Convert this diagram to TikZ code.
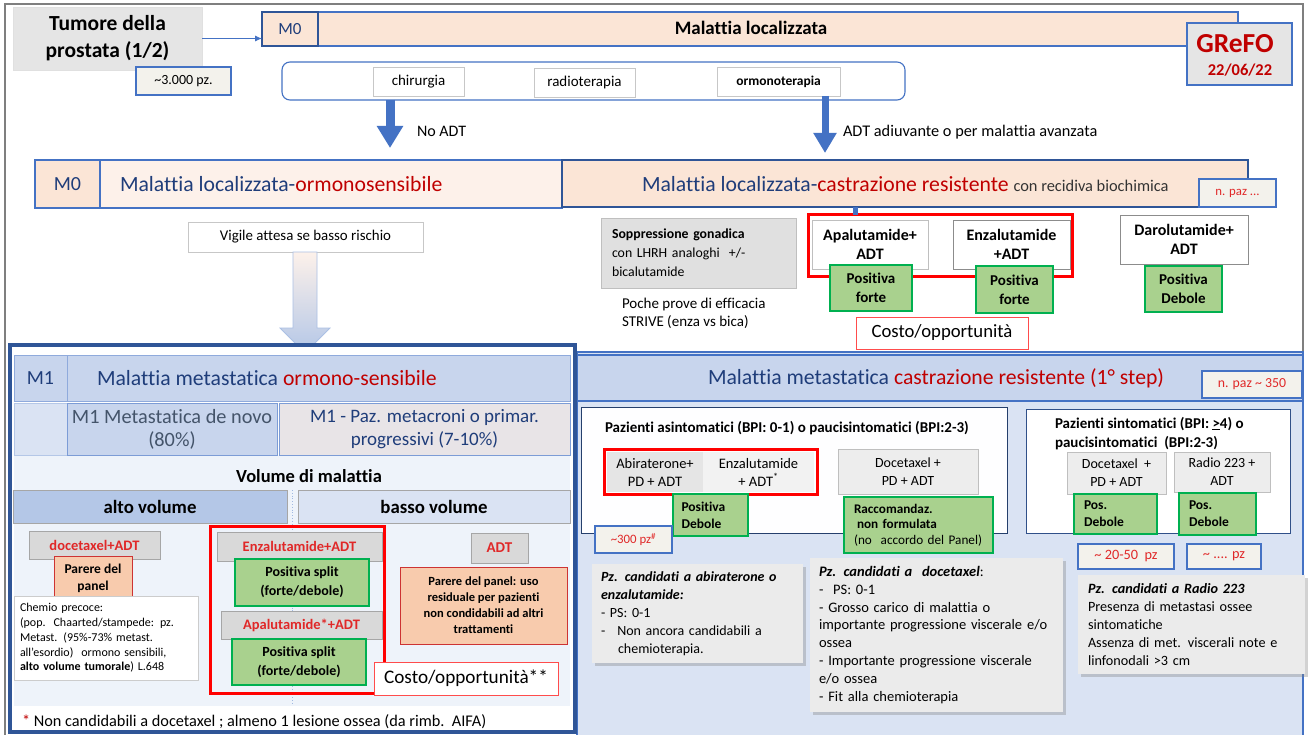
\documentclass[tikz,border=0pt]{standalone}
\usepackage{fontspec}
\setmainfont{Carlito}[Ligatures=NoCommon]
\usetikzlibrary{arrows.meta,shadows}

\definecolor{bordblue}{HTML}{4472C4}
\definecolor{darkblue}{HTML}{2F5597}
\definecolor{txtblue}{HTML}{1F3D7A}
\definecolor{redtxt}{HTML}{C00000}
\definecolor{brred}{HTML}{E02828}
\definecolor{framered}{HTML}{FF0000}
\definecolor{peach}{HTML}{FBE5D6}
\definecolor{peachlt}{HTML}{FDF1EA}
\definecolor{mblue}{HTML}{B4C7E7}
\definecolor{mmid}{HTML}{C8D5ED}
\definecolor{ltblue}{HTML}{DAE3F3}
\definecolor{paleblue}{HTML}{EEF3FA}
\definecolor{grnfill}{HTML}{A9D18E}
\definecolor{grnbord}{HTML}{00B050}
\definecolor{salmon}{HTML}{F8CBAD}
\definecolor{boxgray}{HTML}{D9D9D9}
\definecolor{notegray}{HTML}{EBEBEB}
\definecolor{cream}{HTML}{F3F2EC}
\definecolor{framegray}{HTML}{7F7F7F}
\definecolor{pinkgray}{HTML}{E8E4E7}
\definecolor{graytxt}{HTML}{44546A}

\newcommand\fsz[2]{\fontsize{#1}{#2}\selectfont}
% rectangle node spanning (x1,y1)-(x2,y2), pixel units, y pointing down
\newcommand\pxbox[7]{%
  \node[pxnode,#6,minimum width={(#4)-(#2)},minimum height={(#5)-(#3)}]
    (#1) at ({((#2)+(#4))/2},{((#3)+(#5))/2}) {#7};}

\begin{document}
\begin{tikzpicture}[x=1pt,y=-1pt,
  pxnode/.style={rectangle,inner sep=0pt,outer sep=0pt},
  lightedge/.style={draw=black!22,line width=0.8pt},
  bluedge/.style={draw=bordblue,line width=1.1pt},
  crm/.style={fill=cream,draw=bordblue,line width=1.1pt,text=brred},
  grn/.style={fill=grnfill,draw=grnbord,line width=1.1pt,font=\bfseries\fsz{15}{19},align=center},
  salm/.style={fill=salmon,draw=redtxt!80,line width=1pt,align=center},
  gbox/.style={fill=boxgray,draw=black!35,line width=0.8pt},
  redfr/.style={draw=framered,line width=3pt},
  costo/.style={fill=white,draw=framered!70,line width=1pt,font=\fsz{18.7}{20}},
  note/.style={fill=notegray,drop shadow={shadow xshift=2.5pt,shadow yshift=-3pt,opacity=0.35}},
  lbl/.style={pxnode,anchor=base west},
]
\fill[white] (0,0) rectangle (1313,735);
\useasboundingbox (0,0) rectangle (1313,735);

% outer frame
\draw[framegray,line width=1.5pt] (5,4) rectangle (1303,760);

% ---------------- title ----------------
\pxbox{tum}{13}{7}{202}{70}{fill=black!10,draw=black!12,line width=0.8pt,font=\bfseries\fsz{21.5}{27},align=center}{Tumore della\\prostata (1/2)}
\pxbox{pz}{136}{67}{231}{95}{fill=cream,bluedge,font=\fsz{14}{16}}{\textasciitilde3.000 pz.}

% localized disease bar
\pxbox{locbar}{318}{12}{1238}{46}{fill=peach,bluedge}{}
\pxbox{mza}{262}{12}{318}{46}{fill=peach,draw=darkblue,line width=1.2pt,text=txtblue,font=\fsz{17}{19}}{M0}
\node[pxnode,anchor=base,font=\bfseries\fsz{19}{21}] (loctxt) at (751,35) {Malattia localizzata};
\draw[bordblue,line width=0.8pt,-{Latex[length=7pt,width=6pt]}] (tum.east) -- (tum.east -| mza.west);

% logo
\pxbox{grefo}{1187}{23}{1292}{85}{fill=black!10,bluedge}{}
\node[pxnode,anchor=base,text=redtxt,font=\bfseries\fsz{27.5}{29}] (grefoname) at (1235,53) {GReFO};
\node[pxnode,anchor=base,text=redtxt,font=\bfseries\fsz{16.5}{18}] (grefodate) at (1240,76) {22/06/22};

% treatments
\pxbox{treat}{282}{62}{905}{100}{fill=white,bluedge,rounded corners=8pt}{}
\pxbox{chir}{373}{67}{464}{96}{fill=white,lightedge,font=\fsz{15}{17}}{chirurgia}
\pxbox{radio}{534}{68}{635}{97}{fill=white,lightedge,font=\fsz{15}{17}}{radioterapia}
\pxbox{ormono}{717}{67}{840}{96}{fill=white,lightedge,font=\bfseries\fsz{13.5}{15}}{ormonoterapia}

\coordinate (a1s) at (390,100);
\coordinate (a1e) at (390,148);
\draw[bordblue,line width=9pt,-{Triangle[length=22pt,width=25pt]}] (a1s) -- (a1e);
\node[lbl,font=\fsz{16}{18}] (noadt) at (417,137) {No ADT};
\coordinate (a2s) at (825,96);
\coordinate (a2e) at (825,153);
\draw[bordblue,line width=7pt,-{Triangle[length=20pt,width=22pt]}] (a2s) -- (a2e);
\node[lbl,font=\fsz{16.3}{18}] (adtadj) at (843,137) {ADT adiuvante o per malattia avanzata};

% ---------------- M0 row ----------------
\pxbox{hsens}{100}{160}{562}{208}{fill=peachlt,bluedge}{}
\pxbox{crpcloc}{562}{160}{1248}{207}{fill=peach,draw=darkblue,line width=1.2pt}{}
\pxbox{mzb}{35}{160}{100}{208}{fill=peach,bluedge,text=txtblue,font=\fsz{20}{22}}{M0}
\node[lbl,text=txtblue,font=\fsz{21.7}{24}] (hsenstxt) at (120,192) {Malattia localizzata-\textcolor{redtxt}{ormonosensibile}};
\node[lbl,text=txtblue,font=\fsz{21.7}{24}] (crpcloctxt) at (642,192) {Malattia localizzata-\textcolor{redtxt}{castrazione resistente} {\fsz{16.4}{18}\color{black!80}con recidiva biochimica}};
\pxbox{npaza}{1199}{179}{1276}{207}{crm,font=\fsz{12.8}{14}}{n. paz ...}

\pxbox{vigile}{188}{222}{423}{252}{fill=white,lightedge,font=\fsz{14.9}{16}}{Vigile attesa se basso rischio}
\path[draw=bordblue!45,line width=0.8pt,top color=peachlt,bottom color=mblue]
  (293,252) -- (317,252) -- (317,328) -- (330,328) -- (305,353) -- (280,328) -- (293,328) -- cycle;

\pxbox{sopp}{601}{218}{796}{288}{fill=black!12,draw=black!25,line width=0.8pt,text width=173pt,align=left,font=\fsz{13.8}{19}}{\textbf{Soppressione gonadica}\\con LHRH analoghi\ \ +/-\\bicalutamide}
\node[pxnode,anchor=north west,align=left,font=\fsz{15}{18}] (poche) at (622,298) {Poche prove di efficacia\\STRIVE (enza vs bica)};

\pxbox{rfa}{808}{215}{1072}{276}{redfr}{}
\pxbox{apa}{812}{220}{928}{269}{fill=white,draw=black!25,line width=0.8pt,font=\bfseries\fsz{16}{19.5},align=center}{Apalutamide+\\ADT}
\pxbox{enza}{953}{220}{1070}{269}{fill=white,draw=black!45,line width=0.8pt,font=\bfseries\fsz{16}{19.5},align=center}{Enzalutamide\\+ADT}
\pxbox{pfa}{830}{265}{912}{311}{grn}{Positiva\\forte}
\pxbox{pfb}{976}{266}{1053}{313}{grn}{Positiva\\forte}
\pxbox{daro}{1120}{215}{1248}{264}{fill=white,draw=black!45,line width=0.8pt,font=\bfseries\fsz{16}{19.5},align=center}{Darolutamide+\\ADT}
\pxbox{pdd}{1145}{266}{1222}{312}{grn}{Positiva\\Debole}
\pxbox{costa}{856}{317}{1028}{349}{costo}{Costo/opportunità}
\draw[bordblue,line width=5pt] (crpcloc.south -| 855,0) -- (rfa.north -| 855,0);

% ---------------- mCRPC block ----------------
\pxbox{crpc}{577}{352}{1303}{760}{fill=ltblue,bluedge}{}
\pxbox{crpchead}{577}{355}{1303}{401}{fill=mmid,bluedge}{}
\node[lbl,text=txtblue,font=\fsz{21.7}{24}] (crpctxt) at (708,384) {Malattia metastatica \textcolor{redtxt}{castrazione resistente (1° step)}};
\pxbox{npazb}{1202}{371}{1302}{398}{crm,font=\fsz{13.8}{15}}{n. paz \textasciitilde{} 350}

\pxbox{asym}{581}{407}{1007}{533}{fill=white!96!ltblue,draw=black!45!bordblue,line width=0.8pt}{}
\node[lbl,font=\bfseries\fsz{15}{17}] (asymtxt) at (605,432) {Pazienti asintomatici (BPI: 0-1) o paucisintomatici (BPI:2-3)};
\pxbox{abi}{607}{452}{703}{492}{fill=black!10,font=\fsz{14.5}{18},align=center}{Abiraterone+\\PD + ADT}
\pxbox{enzc}{703}{452}{814}{492}{fill=black!5,font=\fsz{14.5}{18},align=center}{Enzalutamide\\+ ADT\textsuperscript{*}}
\pxbox{rfc}{604}{449}{817}{494}{redfr}{}
\pxbox{pdeba}{673}{494}{748}{536}{grn,text width=58pt,align=left,font=\bfseries\fsz{13.5}{17}}{Positiva\\Debole}
\pxbox{docc}{838}{449}{978}{494}{fill=black!7,draw=black!25,line width=0.8pt,font=\fsz{14}{18},align=center}{Docetaxel +\\PD + ADT}
\pxbox{racc}{844}{497}{993}{553}{grn,text width=129pt,align=left,font=\fsz{13.2}{15.5}}{\textbf{Raccomandaz.}\\\hspace*{3pt}\textbf{non formulata}\\(no\ \ accordo del Panel)}
\pxbox{pzt}{595}{526}{672}{553}{crm,font=\fsz{12.8}{14}}{\textasciitilde300 pz\textsuperscript{\#}}

\pxbox{sym}{1026}{409}{1290}{533}{fill=white,draw=black!30!bordblue,line width=1pt}{}
\node[pxnode,anchor=north west,align=left,font=\bfseries\fsz{15}{19}] (symtxt) at (1055,417) {Pazienti sintomatici (BPI: \underline{>}4) o\\paucisintomatici\ \ (BPI:2-3)};
\pxbox{docd}{1067}{452}{1166}{494}{fill=black!7,draw=black!25,line width=0.8pt,font=\fsz{14}{18},align=center}{Docetaxel\ \ +\\PD + ADT}
\pxbox{rad}{1174}{452}{1270}{492}{fill=black!7,draw=black!25,line width=0.8pt,font=\fsz{14}{18},align=center}{Radio 223 +\\ADT}
\pxbox{posa}{1074}{494}{1157}{534}{grn,text width=63pt,align=left,font=\bfseries\fsz{13.5}{17}}{Pos.\\Debole}
\pxbox{posb}{1179}{493}{1256}{535}{grn,text width=57pt,align=left,font=\bfseries\fsz{13.5}{17}}{Pos.\\Debole}
\pxbox{pzd}{1078}{544}{1174}{569}{crm,font=\fsz{14.3}{15}}{\textasciitilde{} 20-50\ \ pz}
\pxbox{pze}{1187}{544}{1261}{569}{crm,font=\fsz{14.3}{15}}{\textasciitilde{} .... pz}

\pxbox{notea}{592}{564}{803}{663}{note,text width=193pt,align=left,font=\fsz{14}{18}}{\textbf{\textit{Pz. candidati a abiraterone o}}\\\textbf{\textit{enzalutamide:}}\\- PS: 0-1\\-\hspace{12pt}Non ancora candidabili a\\\hspace*{17pt}chemioterapia.}
\pxbox{noteb}{810}{558}{1063}{712}{note,text width=235pt,align=left,font=\fsz{14.5}{17.9}}{\textbf{\textit{Pz. candidati a\ \ docetaxel}}:\\-\ \ PS: 0-1\\- Grosso carico di malattia o\\importante progressione viscerale e/o\\ossea\\- Importante progressione viscerale\\e/o ossea\\- Fit alla chemioterapia}
\pxbox{notec}{1078}{575}{1305}{674}{note,text width=207pt,align=left,font=\fsz{14.2}{18}}{\textbf{\textit{Pz. candidati a Radio 223}}\\Presenza di metastasi ossee\\sintomatiche\\Assenza di met. viscerali note e\\linfonodali >3 cm}

% ---------------- mHSPC block ----------------
\pxbox{mbox}{10}{345}{575}{732}{fill=white,draw=darkblue,line width=4.5pt}{}
\fill[paleblue] (14,455) rectangle (570,706);
\pxbox{mone}{14}{355}{67}{401}{fill=mmid,draw=bordblue!60,line width=0.8pt,text=txtblue,font=\fsz{20}{22}}{M1}
\pxbox{mhead}{67}{355}{570}{401}{fill=mmid,draw=bordblue!60,line width=0.8pt}{}
\node[lbl,text=txtblue,font=\fsz{21.7}{24}] (mheadtxt) at (97,385) {Malattia metastatica \textcolor{redtxt}{ormono-sensibile}};
\pxbox{mempty}{14}{403}{67}{455}{fill=ltblue,draw=bordblue!40,line width=0.8pt}{}
\pxbox{novo}{67}{403}{277}{455}{fill=mmid,draw=bordblue!70,line width=0.8pt,text=graytxt,font=\fsz{20.3}{23},align=center}{M1 Metastatica de novo\\(80\%)}
\pxbox{metac}{279}{403}{570}{455}{fill=pinkgray,draw=bordblue!70,line width=0.8pt,text=txtblue,font=\fsz{19}{23},align=center}{M1 - Paz. metacroni o primar.\\progressivi (7-10\%)}
\node[pxnode,anchor=base,font=\bfseries\fsz{18.5}{20}] (voltxt) at (309,482) {Volume di malattia};
\pxbox{alto}{13}{490}{287}{523}{fill=mblue,draw=black!35,line width=0.8pt,font=\bfseries\fsz{18.8}{20}}{alto volume}
\pxbox{basso}{298}{490}{570}{523}{fill=ltblue,draw=black!35,line width=0.8pt,font=\bfseries\fsz{18.8}{20}}{basso volume}
\draw[bordblue!50,dotted,line width=0.8pt] (292,490) -- (292,705);

\pxbox{doca}{29}{531}{160}{559}{gbox,text=brred,font=\bfseries\fsz{14.5}{16}}{docetaxel+ADT}
\pxbox{parerea}{54}{556}{132}{600}{salm,font=\bfseries\fsz{13.5}{17}}{Parere del\\panel}
\pxbox{chemio}{14}{596}{198}{680}{fill=white,draw=black!20,line width=0.8pt,text width=172pt,align=left,font=\fsz{12}{14.7}}{Chemio precoce:\\(pop.\ \ Chaarted/stampede: pz.\\Metast. (95\%-73\% metast.\\all’esordio)\ \ ormono sensibili,\\\textbf{alto volume tumorale}) L.648}
\pxbox{rfb}{210}{526}{384}{693}{redfr}{}
\pxbox{enzb}{217}{532}{382}{561}{gbox,text=brred,font=\bfseries\fsz{14.5}{16}}{Enzalutamide+ADT}
\pxbox{psa}{235}{559}{369}{606}{grn,font=\bfseries\fsz{14}{19}}{Positiva split\\(forte/debole)}
\pxbox{apab}{221}{611}{382}{639}{gbox,text=brred,font=\bfseries\fsz{14.5}{16}}{Apalutamide*+ADT}
\pxbox{psb}{232}{639}{366}{685}{grn,font=\bfseries\fsz{14}{19}}{Positiva split\\(forte/debole)}
\pxbox{adt}{471}{533}{528}{563}{gbox,text=brred,font=\bfseries\fsz{15}{17}}{ADT}
\pxbox{pareresb}{400}{567}{567}{644}{salm,font=\bfseries\fsz{12.5}{16}}{Parere del panel: uso\\residuale per pazienti\\non condidabili ad altri\\trattamenti}
\pxbox{costb}{374}{662}{558}{695}{costo,font=\fsz{19.2}{21}}{Costo/opportunità**}
\node[lbl,font=\fsz{16.3}{18}] (foot) at (22,726) {\textcolor{redtxt}{*} Non candidabili a docetaxel ; almeno 1 lesione ossea (da rimb.\ \ AIFA)};
\end{tikzpicture}
\end{document}
